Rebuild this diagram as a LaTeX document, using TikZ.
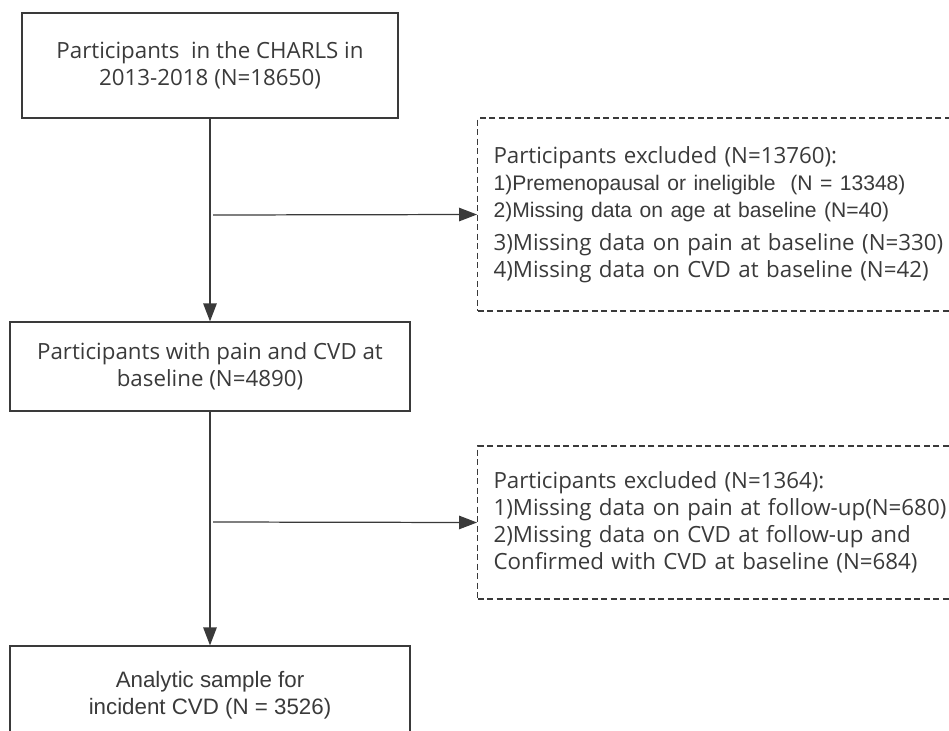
\documentclass[tikz,border=0pt]{standalone}
\usepackage{fontspec}
\setmainfont{Open Sans}
\newfontfamily\arialfont{Liberation Sans}
\usetikzlibrary{arrows.meta}
\definecolor{inkgray}{HTML}{3A3A3A}

\begin{document}
\begin{tikzpicture}[x=0.02cm, y=-0.02cm,
        every node/.style={text=inkgray, font=\fontsize{12.7}{15.4}\selectfont},
        mainbox/.style={draw=inkgray, line width=0.7pt, align=center, inner sep=0pt},
        exclbox/.style={draw=inkgray, line width=0.6pt, dash pattern=on 0.12cm off 0.07cm, anchor=west, align=left, inner xsep=0.32cm, inner ysep=0pt, text width=9.86cm},
        flow/.style={draw=inkgray, line width=0.7pt, -{Triangle[length=0.36cm, width=0.27cm]}}]
            \useasboundingbox (0, 0) rectangle (949, 730);
            \clip (0, 0) rectangle (949, 730);

            \node[mainbox, minimum width=7.52cm, minimum height=2.1cm] (charls) at (210, 65.5) {Participants\ \ in the CHARLS in\\2013-2018 (N=18650)};
            \node[mainbox, minimum width=8cm, minimum height=1.78cm] (baseline) at (210, 366.5) {Participants with pain and CVD at\\baseline (N=4890)};
            \node[mainbox, minimum width=8cm, minimum height=1.96cm, font=\arialfont\fontsize{12.7}{15.4}\selectfont] (analytic) at (210, 695) {Analytic sample for\\incident CVD (N = 3526)};

            \node[exclbox, minimum width=10.5cm, minimum height=3.86cm] (excl1) at (477, 214.5) {Participants excluded (N=13760):\\
                {\arialfont\fontsize{12}{15.4}\selectfont 1)Premenopausal or ineligible\ \ (N = 13348)}\\
                {\arialfont\fontsize{12}{15.4}\selectfont 2)Missing data on age at baseline (N=40)}\\[0.12cm]
                3)Missing data on pain at baseline (N=330)\\
                4)Missing data on CVD at baseline (N=42)};
            \node[exclbox, minimum width=10.5cm, minimum height=3.06cm] (excl2) at (477, 522.5) {Participants excluded (N=1364):\\
                1)Missing data on pain at follow-up(N=680)\\
                2)Missing data on CVD at follow-up and\\
                Confirmed with CVD at baseline (N=684)};

            \coordinate (split1) at (213, 215);
            \coordinate (split2) at (213, 522);

            \draw [flow](charls.south) -- (baseline.north);
            \draw [flow](baseline.south) -- (analytic.north);
            \draw [flow](split1) -- (excl1.west);
            \draw [flow](split2) -- (excl2.west);
        \end{tikzpicture}
\end{document}
